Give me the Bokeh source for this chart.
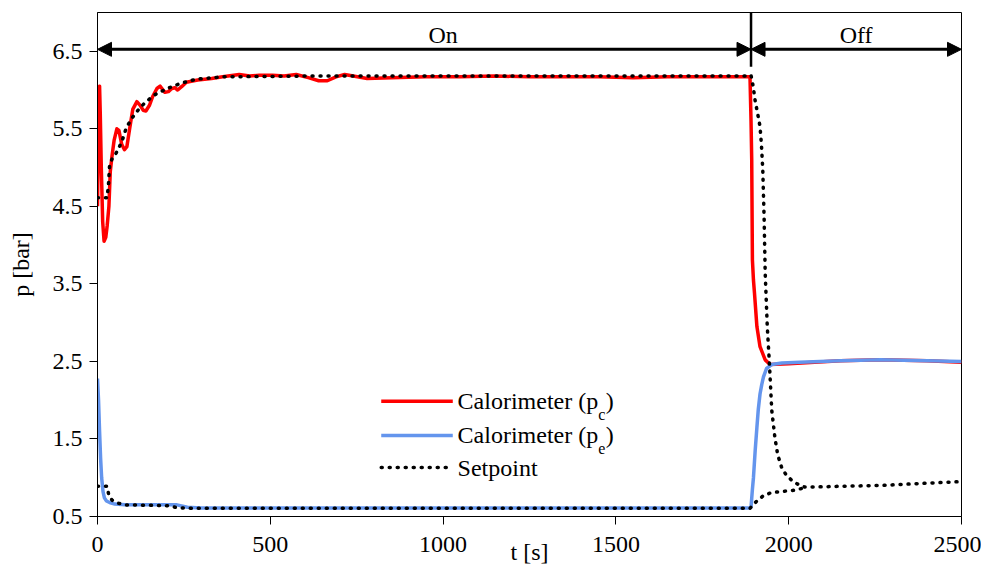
from bokeh.plotting import figure
from bokeh.models import Range1d, FixedTicker, Arrow, NormalHead, Label
from bokeh.embed import file_html
from bokeh.resources import INLINE

# ---------------- data ----------------
x_ticks = [0, 500, 1000, 1500, 2000, 2500]
x_tick_labels = ["0", "500", "1000", "1500", "2000", "2500"]
y_ticks = [0.5, 1.5, 2.5, 3.5, 4.5, 5.5, 6.5]
y_tick_labels = ["0.5", "1.5", "2.5", "3.5", "4.5", "5.5", "6.5"]

# Calorimeter (p_c)
t_pc = [0, 2, 4, 6, 8, 11, 15, 19, 24, 28, 33, 37, 42, 48, 56, 62, 70, 78, 85, 93,
        102, 114, 124, 132, 140, 150, 160, 172, 181, 188, 195, 205, 215, 224, 232,
        245, 257, 290, 330, 362, 410, 440, 468, 506, 540, 575, 610, 640, 665, 690,
        715, 740, 780, 850, 950, 1050, 1150, 1250, 1350, 1450, 1550, 1650, 1750,
        1850, 1888, 1891, 1893, 1895, 1898, 1901, 1908, 1917, 1932, 1946, 2000,
        2075, 2150, 2266, 2400, 2500]
p_pc = [4.5, 5.2, 6.0, 6.05, 5.7, 5.0, 4.3, 4.05, 4.1, 4.25, 4.5, 4.95, 5.15, 5.35,
        5.5, 5.48, 5.3, 5.23, 5.27, 5.5, 5.75, 5.85, 5.8, 5.74, 5.73, 5.8, 5.92,
        6.02, 6.05, 6.01, 5.97, 5.98, 6.02, 6.03, 6.0, 6.05, 6.1, 6.13, 6.15, 6.17,
        6.2, 6.18, 6.19, 6.19, 6.18, 6.2, 6.16, 6.12, 6.12, 6.17, 6.2, 6.18, 6.15,
        6.16, 6.17, 6.17, 6.18, 6.17, 6.17, 6.17, 6.16, 6.17, 6.17, 6.17, 6.17,
        5.6, 5.1, 3.81, 3.55, 3.38, 2.95, 2.69, 2.52, 2.46, 2.47, 2.49, 2.51, 2.52,
        2.51, 2.49]

# Calorimeter (p_e)
t_pe = [0, 3, 6, 9, 12, 16, 20, 26, 35, 50, 80, 150, 200, 230, 260, 300, 400, 800,
        1200, 1600, 1888, 1891, 1895, 1898, 1903, 1908, 1912, 1917, 1922, 1927,
        1936, 1951, 1980, 2032, 2150, 2266, 2400, 2500]
p_pe = [2.28, 2.0, 1.6, 1.25, 1.0, 0.82, 0.74, 0.70, 0.68, 0.66, 0.65, 0.65, 0.65,
        0.65, 0.62, 0.61, 0.61, 0.61, 0.61, 0.61, 0.61, 0.62, 0.85, 1.0, 1.35,
        1.65, 1.88, 2.08, 2.2, 2.3, 2.41, 2.46, 2.48, 2.49, 2.51, 2.52, 2.51, 2.5]

# Setpoint - high branch
t_sp_high = [0, 28, 32, 35, 42, 52, 61, 71, 83, 100, 119, 138, 166, 202, 243, 286,
             363, 600, 1000, 1400, 1888, 1891, 1897, 1903, 1910, 1917, 1921, 1925,
             1929, 1932, 1938, 1944, 1951, 1960, 1968, 1979, 1992, 2008, 2025, 2046,
             2075, 2150, 2266, 2400, 2500]
p_sp_high = [4.61, 4.61, 4.8, 5.03, 5.11, 5.17, 5.25, 5.34, 5.51, 5.64, 5.75, 5.84,
             5.94, 6.02, 6.09, 6.14, 6.17, 6.18, 6.18, 6.18, 6.18, 6.19, 6.05, 5.86,
             5.7, 5.53, 5.3, 4.97, 4.33, 3.64, 2.95, 2.49, 1.87, 1.52, 1.3, 1.14,
             1.04, 0.97, 0.92, 0.88, 0.88, 0.89, 0.9, 0.93, 0.95]

# Setpoint - low branch
t_sp_low = [0, 28, 32, 42, 61, 80, 200, 224, 248, 272, 1000, 1888, 1891, 1908, 1927,
            1951, 1975, 2018, 2046]
p_sp_low = [0.89, 0.89, 0.79, 0.71, 0.67, 0.65, 0.64, 0.62, 0.61, 0.605, 0.605,
            0.605, 0.62, 0.70, 0.77, 0.81, 0.82, 0.84, 0.87]

switch_time = 1891

# ---------------- figure ----------------
FONT = "Liberation Serif"

p = figure(width=981, height=572, output_backend="svg", toolbar_location=None,
           x_range=Range1d(0, 2500), y_range=Range1d(0.5, 7.0),
           min_border_left=97, min_border_right=20, min_border_top=12,
           min_border_bottom=56)
p.xgrid.visible = False
p.ygrid.visible = False
p.outline_line_color = "black"
p.outline_line_width = 1
p.background_fill_color = "white"
p.border_fill_color = "white"

p.xaxis.ticker = FixedTicker(ticks=x_ticks)
p.yaxis.ticker = FixedTicker(ticks=y_ticks)
p.xaxis.major_label_overrides = {float(k): v for k, v in zip(x_ticks, x_tick_labels)}
p.yaxis.major_label_overrides = {float(k): v for k, v in zip(y_ticks, y_tick_labels)}
p.xaxis.axis_label = "t [s]"
p.yaxis.axis_label = "p [bar]"
for ax in (p.xaxis, p.yaxis):
    ax.axis_line_color = "black"
    ax.major_tick_line_color = "black"
    ax.major_tick_in = 0
    ax.major_tick_out = 8
    ax.minor_tick_line_color = None
    ax.major_label_text_font = FONT
    ax.major_label_text_font_size = "24px"
    ax.major_label_text_color = "black"
    ax.axis_label_text_font = FONT
    ax.axis_label_text_font_size = "24px"
    ax.axis_label_text_font_style = "normal"
    ax.axis_label_text_color = "black"
p.xaxis.major_label_standoff = 12
p.xaxis.axis_label_standoff = -16
p.yaxis.major_label_standoff = 7
p.yaxis.axis_label_standoff = 16

# ---------------- data lines ----------------
p.line(t_pc, p_pc, line_color="#FF0000", line_width=3.5, line_join="round")
p.line(t_pe, p_pe, line_color="#6495ED", line_width=3.5, line_join="round")
for ts, ps in ((t_sp_high, p_sp_high), (t_sp_low, p_sp_low)):
    p.line(ts, ps, line_color="black", line_width=3.5, line_dash="1 7",
           line_cap="round")

# ---------------- On / Off annotations ----------------
arrow_y = 6.525
label_y = 6.545
for xs, xe in ((0, switch_time), (switch_time, 2500)):
    p.add_layout(Arrow(x_start=xs, y_start=arrow_y, x_end=xe, y_end=arrow_y,
                       line_width=3, line_color="black",
                       start=NormalHead(size=14, fill_color="black", line_color="black"),
                       end=NormalHead(size=14, fill_color="black", line_color="black")))
p.add_layout(Arrow(x_start=switch_time, y_start=7.0, x_end=switch_time, y_end=6.3,
                   line_width=2.5, line_color="black", start=None, end=None))
p.add_layout(Label(x=1000, y=label_y, text="On", text_align="center",
                   text_baseline="bottom", text_font=FONT,
                   text_font_size="24px", text_color="black"))
p.add_layout(Label(x=2195, y=label_y, text="Off", text_align="center",
                   text_baseline="bottom", text_font=FONT,
                   text_font_size="24px", text_color="black"))

# ---------------- manual legend ----------------
leg_x0, leg_x1, leg_tx = 821, 1028, 1042
sub_drop = 0.168   # subscript baseline below the entry's centre line (data units)
entries = [
    (1.985, "#FF0000", None, "Calorimeter (p", "c", ")"),
    (1.545, "#6495ED", None, "Calorimeter (p", "e", ")"),
    (1.131, "black", "1 7", "Setpoint", None, None),
]
main_w = 140.6  # width of "Calorimeter (p" at 24px Times metrics
for yv, col, dash, txt, sub, close in entries:
    kw = dict(line_dash=dash, line_cap="round") if dash else {}
    p.add_layout(Arrow(x_start=leg_x0, y_start=yv, x_end=leg_x1, y_end=yv,
                       line_width=3.5, line_color=col, start=None, end=None, **kw))
    p.add_layout(Label(x=leg_tx, y=yv, text=txt, text_align="left",
                       text_baseline="middle", text_font=FONT,
                       text_font_size="24px", text_color="black"))
    if sub:
        p.add_layout(Label(x=leg_tx, y=yv - sub_drop, x_offset=main_w, text=sub,
                           text_align="left", text_baseline="alphabetic",
                           text_font=FONT, text_font_size="16px", text_color="black"))
        p.add_layout(Label(x=leg_tx, y=yv, x_offset=main_w + 7.5, text=close,
                           text_align="left", text_baseline="middle",
                           text_font=FONT, text_font_size="24px", text_color="black"))

open("out.html", "w").write(file_html(p, INLINE))
